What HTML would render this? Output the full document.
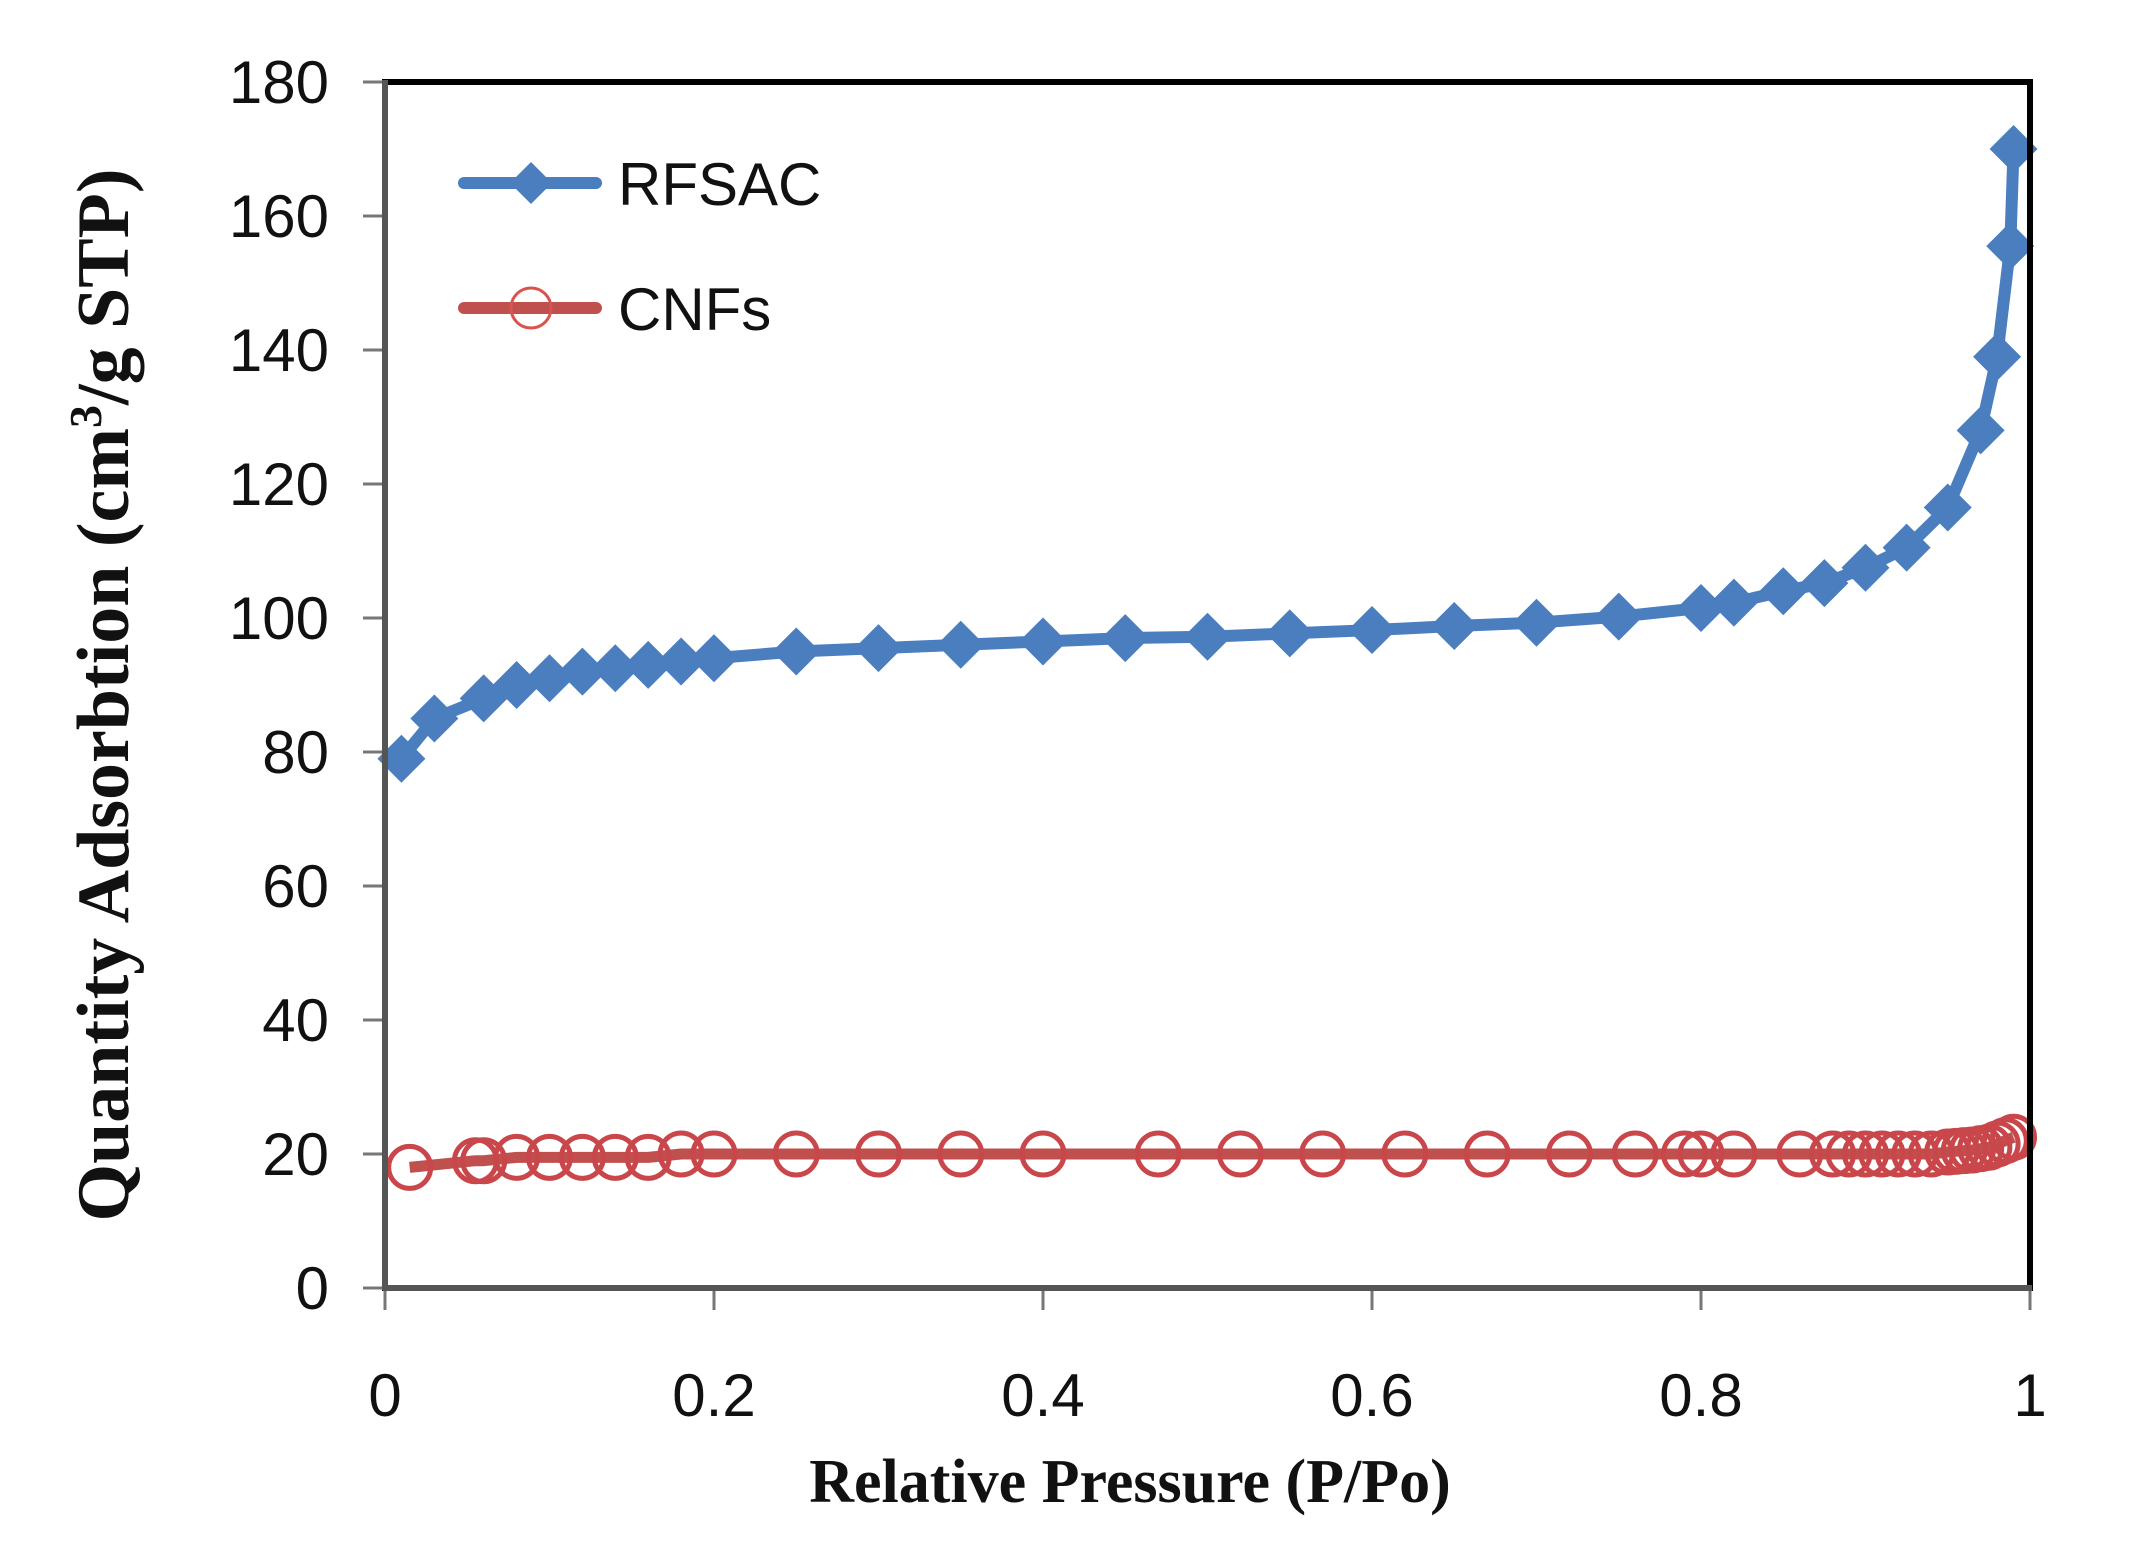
<!DOCTYPE html>
<html><head><meta charset="utf-8"><style>
html,body{margin:0;padding:0;background:#fff;}
svg{display:block;}
</style></head><body>
<svg id="chart" width="2152" height="1564" viewBox="0 0 2152 1564" xmlns="http://www.w3.org/2000/svg">
<g id="ticks"></g>
<g id="series"></g>
<rect x="385" y="82" width="1645" height="1206" fill="none" stroke="#000" stroke-width="6"/>
<line x1="385" y1="80" x2="385" y2="1290" stroke="#555" stroke-width="6"/>
<line x1="383" y1="1288" x2="2032" y2="1288" stroke="#555" stroke-width="6"/>
<g>
<g>
<line x1="464" y1="183" x2="596" y2="183" stroke="#4a7ebf" stroke-width="12" stroke-linecap="round"/>
<polygon points="531,162 552,183 531,204 510,183" fill="#4a7ebf"/>
<text x="618" y="205" font-family="Liberation Sans, sans-serif" font-size="60" fill="#111">RFSAC</text>
</g>
<g>
<line x1="464" y1="308" x2="596" y2="308" stroke="#c0504d" stroke-width="12" stroke-linecap="round"/>
<circle cx="531" cy="308" r="20" fill="none" stroke="#d9534f" stroke-width="3"/>
<text x="618" y="330" font-family="Liberation Sans, sans-serif" font-size="60" fill="#111">CNFs</text>
</g>
</g>
<text transform="translate(128,695) rotate(-90)" text-anchor="middle" font-family="Liberation Serif, serif" font-weight="bold" font-size="74" fill="#111">Quantity Adsorbtion (cm<tspan font-size="46" dy="-27">3</tspan><tspan dy="27">/g STP)</tspan></text>
<text x="1130" y="1502" text-anchor="middle" font-family="Liberation Serif, serif" font-weight="bold" font-size="62" fill="#111">Relative Pressure (P/Po)</text>
</svg>
<script>
const yTicks=[0,20,40,60,80,100,120,140,160,180];
const xTicks=[0,0.2,0.4,0.6,0.8,1];
const xTickLabels=["0","0.2","0.4","0.6","0.8","1"];
const rfsacX=[0.01,0.03,0.06,0.08,0.1,0.12,0.14,0.16,0.18,0.2,0.25,0.3,0.35,0.4,0.45,0.5,0.55,0.6,0.65,0.7,0.75,0.8,0.82,0.85,0.875,0.9,0.925,0.95,0.97,0.98,0.988,0.99];
const rfsacY=[79,85,88,90,91,92,92.5,93,93.5,94,95,95.5,96,96.5,97,97.2,97.7,98.2,98.8,99.3,100.2,101.5,102.3,104,105.2,107.5,110.5,116.5,128,139,155.5,170];
const cnfX=[0.015,0.055,0.06,0.08,0.1,0.12,0.14,0.16,0.18,0.2,0.25,0.3,0.35,0.4,0.47,0.52,0.57,0.62,0.67,0.72,0.76,0.79,0.8,0.82,0.86,0.88,0.89,0.9,0.91,0.92,0.93,0.94,0.95,0.955,0.96,0.965,0.97,0.975,0.98,0.985,0.99];
const cnfY=[18,19,19,19.5,19.5,19.5,19.5,19.5,20,20,20,20,20,20,20,20,20,20,20,20,20,20,20,20,20,20,20,20,20,20,20,20,20.3,20.4,20.5,20.6,20.8,21,21.5,22,22.5];
const NS="http://www.w3.org/2000/svg";
const X0=385,X1=2030,Y0=1288,Y1=82;
function sx(v){return X0+(X1-X0)*v;}
function sy(v){return Y0-(Y0-Y1)*v/180;}
function mk(tag,attrs,parent){const e=document.createElementNS(NS,tag);for(const k in attrs)e.setAttribute(k,attrs[k]);parent.appendChild(e);return e;}
const tg=document.getElementById('ticks');
yTicks.forEach(v=>{
 const l=mk('line',{x1:X0-22,x2:X0,y1:sy(v),y2:sy(v),stroke:'#777','stroke-width':3},tg);
 
 
 const t=mk('text',{x:329,y:sy(v)+21,'text-anchor':'end','font-family':'Liberation Sans, sans-serif','font-size':60,fill:'#111'},tg);
 t.textContent=v;
 
 
});
xTicks.forEach((v,i)=>{
 const l=mk('line',{x1:sx(v),x2:sx(v),y1:Y0,y2:Y0+22,stroke:'#777','stroke-width':3},tg);
 
 
 const t=mk('text',{x:sx(v),y:1416,'text-anchor':'middle','font-family':'Liberation Sans, sans-serif','font-size':60,fill:'#111'},tg);
 t.textContent=xTickLabels[i];
 
 
});
const sg=document.getElementById('series');
function pts(xs,ys){return xs.map((x,i)=>sx(x)+','+sy(ys[i])).join(' ');}
const l1=mk('polyline',{points:pts(cnfX,cnfY),fill:'none',stroke:'#c0504d','stroke-width':11,'stroke-linejoin':'round'},sg);


cnfX.forEach((x,i)=>{
 const c=mk('circle',{cx:sx(x),cy:sy(cnfY[i]),r:21,fill:'none',stroke:'#c9464a','stroke-width':5},sg);
 
 
});
const l2=mk('polyline',{points:pts(rfsacX,rfsacY),fill:'none',stroke:'#4a7ebf','stroke-width':12,'stroke-linejoin':'round'},sg);


rfsacX.forEach((x,i)=>{
 const cx=sx(x),cy=sy(rfsacY[i]);
 const p=mk('polygon',{points:`${cx},${cy-24} ${cx+24},${cy} ${cx},${cy+24} ${cx-24},${cy}`,fill:'#4a7ebf'},sg);
 
 
});
</script>
</body></html>
